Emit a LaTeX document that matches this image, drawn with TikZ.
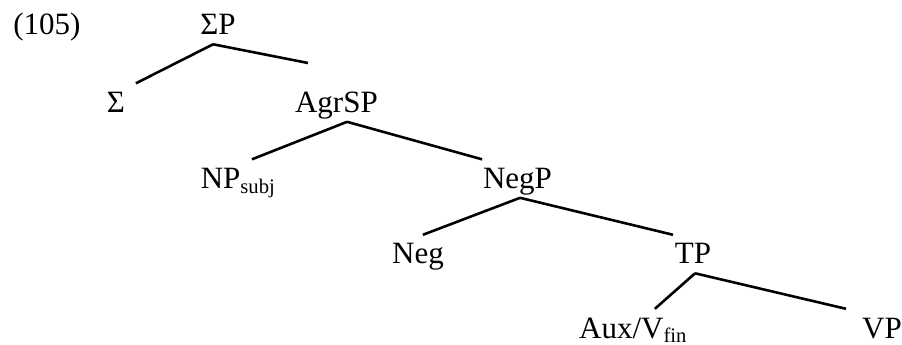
\documentclass[12pt,tikz,border=0pt]{standalone}
\usepackage{fontspec}
\setmainfont{Liberation Serif}

\begin{document}
\begin{tikzpicture}[%
    line width=1pt,             % Branch thickness
    ]
\tikzset{
  cat/.style={anchor=base, inner sep=0pt, text height=10.8pt, text depth=3.1pt},
}
\useasboundingbox (0,0) rectangle (12.273,-4.694);

\node [anchor=base west, inner sep=0pt] (ex) at (0.163,-0.476) {(105)};

\node [cat] (sp) at (2.966,-0.476) {ΣP};
\node [cat] (sig) at (1.578,-1.531) {Σ};
\node [cat] (agrsp) at (4.578,-1.531) {AgrSP};
\node [cat] (npsubj) at (3.245,-2.565) {NP\textsubscript{subj}};
\node [cat] (negp) at (7.041,-2.565) {NegP};
\node [cat] (neg) at (5.687,-3.592) {Neg};
\node [cat] (tp) at (9.429,-3.592) {TP};
\node [cat] (aux) at (8.619,-4.599) {Aux/V\textsubscript{fin}};
\node [cat] (vp) at (12.000,-4.599) {VP};

\coordinate (cut) at (4.191,-0.857);

\draw ([xshift=-1.9pt]sp.south) -- ([xshift=7.7pt]sig.north);
\draw ([xshift=-1.9pt]sp.south) -- (cut);

\draw ([xshift=4.1pt]agrsp.south) -- ([xshift=5.2pt]npsubj.north);
\draw ([xshift=4.1pt]agrsp.south) -- ([xshift=-13.7pt]negp.north);

\draw ([xshift=1pt]negp.south) -- ([xshift=1.9pt]neg.north);
\draw ([xshift=1pt]negp.south) -- ([xshift=-7.7pt]tp.north);

\draw ([xshift=0.8pt]tp.south) -- ([xshift=8.3pt]aux.north);
\draw ([xshift=0.8pt]tp.south) -- ([xshift=-13.9pt]vp.north);

\end{tikzpicture}
\end{document}
